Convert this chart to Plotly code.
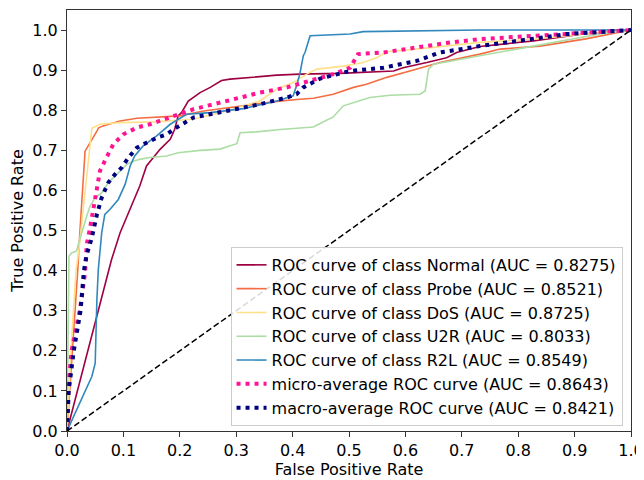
import plotly.graph_objects as go

# ---------------- data ----------------
normal_fpr = [0, 0.079, 0.094, 0.112, 0.129, 0.141, 0.159, 0.165, 0.183, 0.191, 0.197, 0.203, 0.215, 0.236, 0.254, 0.274, 0.289, 0.33, 0.372, 0.413, 0.484, 0.579, 0.596, 0.638, 0.673, 0.691, 0.732, 0.827, 0.915, 1.0]
normal_tpr = [0, 0.4275, 0.494, 0.5525, 0.611, 0.661, 0.694, 0.7025, 0.7275, 0.7525, 0.786, 0.794, 0.823, 0.844, 0.857, 0.874, 0.8775, 0.882, 0.8875, 0.89, 0.892, 0.898, 0.906, 0.919, 0.931, 0.944, 0.959, 0.973, 0.99, 1.0]

probe_fpr = [0, 0.005, 0.012, 0.019, 0.023, 0.032, 0.053, 0.056, 0.064, 0.094, 0.124, 0.165, 0.2, 0.242, 0.313, 0.372, 0.413, 0.437, 0.472, 0.508, 0.531, 0.567, 0.608, 0.661, 0.732, 0.768, 0.839, 0.92, 1.0]
probe_tpr = [0, 0.1, 0.25, 0.4, 0.5, 0.698, 0.748, 0.756, 0.761, 0.773, 0.78, 0.783, 0.786, 0.798, 0.811, 0.822, 0.8275, 0.83, 0.84, 0.857, 0.865, 0.882, 0.898, 0.919, 0.94, 0.9525, 0.96, 0.978, 1.0]

dos_fpr = [0, 0.003, 0.007, 0.016, 0.021, 0.044, 0.0585, 0.094, 0.153, 0.224, 0.283, 0.342, 0.372, 0.401, 0.425, 0.443, 0.49, 0.525, 0.549, 0.567, 0.65, 0.732, 0.827, 0.92, 1.0]
dos_tpr = [0, 0.1, 0.2, 0.4, 0.45, 0.755, 0.765, 0.769, 0.771, 0.7775, 0.798, 0.823, 0.8525, 0.869, 0.89, 0.9025, 0.91, 0.919, 0.931, 0.946, 0.9567, 0.9692, 0.977, 0.99, 1.0]

u2r_fpr = [0, 0.0035, 0.008, 0.017, 0.02, 0.023, 0.026, 0.035, 0.041, 0.05, 0.0615, 0.073, 0.085, 0.097, 0.106, 0.1175, 0.129, 0.147, 0.177, 0.197, 0.236, 0.271, 0.301, 0.307, 0.336, 0.378, 0.413, 0.437, 0.454, 0.472, 0.49, 0.502, 0.537, 0.573, 0.626, 0.635, 0.641, 0.65, 0.679, 0.732, 0.827, 0.945, 1.0]
u2r_tpr = [0, 0.436, 0.444, 0.449, 0.465, 0.481, 0.494, 0.536, 0.561, 0.582, 0.594, 0.619, 0.636, 0.6525, 0.665, 0.673, 0.6775, 0.682, 0.686, 0.694, 0.7, 0.703, 0.7167, 0.744, 0.746, 0.752, 0.756, 0.7583, 0.7708, 0.7833, 0.811, 0.8167, 0.8317, 0.8375, 0.84, 0.848, 0.9025, 0.915, 0.923, 0.936, 0.96, 0.99, 1.0]

r2l_fpr = [0, 0.044, 0.05, 0.051, 0.053, 0.0555, 0.0585, 0.0615, 0.067, 0.076, 0.091, 0.103, 0.112, 0.12, 0.135, 0.159, 0.183, 0.212, 0.254, 0.3125, 0.372, 0.401, 0.407, 0.413, 0.419, 0.422, 0.431, 0.502, 0.525, 0.732, 1.0]
r2l_tpr = [0, 0.136, 0.169, 0.236, 0.3275, 0.4025, 0.4525, 0.494, 0.54, 0.5525, 0.5775, 0.615, 0.661, 0.686, 0.711, 0.736, 0.765, 0.79, 0.794, 0.804, 0.823, 0.836, 0.861, 0.8917, 0.936, 0.944, 0.986, 0.99, 0.996, 1.0, 1.0]

micro_fpr = [0, 0.002, 0.008, 0.0124, 0.023, 0.032, 0.035, 0.041, 0.047, 0.053, 0.0585, 0.07, 0.082, 0.1, 0.124, 0.147, 0.171, 0.224, 0.283, 0.342, 0.39, 0.431, 0.472, 0.502, 0.516, 0.561, 0.62, 0.679, 0.732, 0.886, 1.0]
micro_tpr = [0, 0.1, 0.2, 0.233, 0.3025, 0.394, 0.465, 0.507, 0.5525, 0.607, 0.649, 0.682, 0.715, 0.74, 0.7567, 0.765, 0.7775, 0.8025, 0.823, 0.844, 0.857, 0.874, 0.89, 0.906, 0.94, 0.944, 0.9567, 0.969, 0.9775, 0.9917, 1.0]

macro_fpr = [0, 0.003, 0.012, 0.024, 0.030, 0.035, 0.044, 0.053, 0.0615, 0.073, 0.085, 0.097, 0.109, 0.124, 0.141, 0.159, 0.177, 0.194, 0.224, 0.283, 0.342, 0.39, 0.407, 0.419, 0.449, 0.502, 0.561, 0.62, 0.661, 0.732, 0.886, 1.0]
macro_tpr = [0, 0.1, 0.2, 0.3, 0.4, 0.44, 0.482, 0.54, 0.582, 0.619, 0.64, 0.657, 0.682, 0.7067, 0.719, 0.731, 0.74, 0.7567, 0.7817, 0.798, 0.815, 0.8317, 0.84, 0.857, 0.879, 0.898, 0.906, 0.923, 0.944, 0.96, 0.99, 1.0]

class_names = ["Normal", "Probe", "DoS", "U2R", "R2L"]
class_auc = ["0.8275", "0.8521", "0.8725", "0.8033", "0.8549"]
micro_auc = "0.8643"
macro_auc = "0.8421"
chance = [0, 1]
tick_vals = [0, 0.1, 0.2, 0.3, 0.4, 0.5, 0.6, 0.7, 0.8, 0.9, 1.0]
tick_text = ["0.0", "0.1", "0.2", "0.3", "0.4", "0.5", "0.6", "0.7", "0.8", "0.9", "1.0"]

# ---------------- styles ----------------
class_colors = ["#9e0142", "#f46d43", "#fee08b", "#abdda4", "#3288bd"]
FONT = "DejaVu Sans"
FS = 16

fig = go.Figure()

fprs = [normal_fpr, probe_fpr, dos_fpr, u2r_fpr, r2l_fpr]
tprs = [normal_tpr, probe_tpr, dos_tpr, u2r_tpr, r2l_tpr]
for name, auc, fx, ty, col in zip(class_names, class_auc, fprs, tprs, class_colors):
    fig.add_trace(go.Scatter(
        x=fx, y=ty, mode="lines",
        name=f"ROC curve of class {name} (AUC = {auc})",
        line=dict(color=col, width=1.6),
    ))

fig.add_trace(go.Scatter(
    x=micro_fpr, y=micro_tpr, mode="lines",
    name=f"micro-average ROC curve (AUC = {micro_auc})",
    line=dict(color="deeppink", width=4, dash="4px,5px"),
))
fig.add_trace(go.Scatter(
    x=macro_fpr, y=macro_tpr, mode="lines",
    name=f"macro-average ROC curve (AUC = {macro_auc})",
    line=dict(color="navy", width=4, dash="4px,5px"),
))
fig.add_trace(go.Scatter(
    x=chance, y=chance, mode="lines", showlegend=False,
    line=dict(color="black", width=1.5, dash="6px,3px"),
))

axis_common = dict(
    showgrid=False, zeroline=False, showline=True, mirror=True,
    linecolor="#333333", linewidth=1.2, automargin=False,
    ticks="outside", ticklen=5, tickwidth=1.2, tickcolor="#333333",
    tickvals=tick_vals, ticktext=tick_text,
    tickfont=dict(family=FONT, size=FS, color="black"),
)

# the page body adds an 8px offset; the figure is sized to fit the window
fig.update_layout(
    width=636, height=472,
    margin=dict(l=59, r=13, t=2, b=49),
    paper_bgcolor="white", plot_bgcolor="white",
    font=dict(family=FONT, size=FS, color="black"),
    xaxis=dict(range=[0, 1.0], title=dict(text="False Positive Rate", font=dict(family=FONT, size=FS), standoff=4), **axis_common),
    yaxis=dict(range=[0, 1.05], title=dict(text="True Positive Rate", font=dict(family=FONT, size=FS), standoff=6), **axis_common),
    legend=dict(
        x=0.985, y=0.012, xanchor="right", yanchor="bottom",
        bgcolor="rgba(255,255,255,0.85)", bordercolor="#cccccc", borderwidth=1,
        font=dict(family=FONT, size=FS, color="black"),
        itemwidth=30, tracegroupgap=0,
    ),
    showlegend=True,
)

fig.write_html("out.html")
